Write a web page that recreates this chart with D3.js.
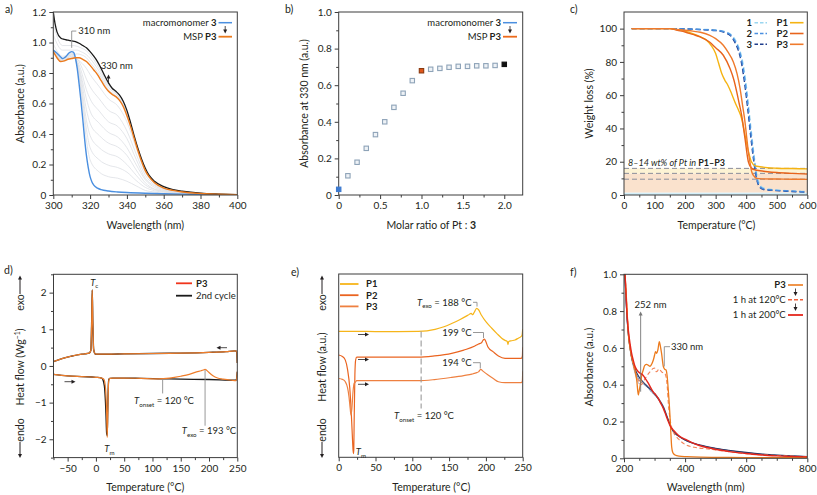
<!DOCTYPE html>
<html><head><meta charset="utf-8">
<script src="https://cdn.jsdelivr.net/npm/d3@7"></script>
<style>
body{margin:0;background:#fff}
text{font-family:Lato,"Noto Sans",sans-serif;fill:#231f20}
</style></head><body>
<svg id="c" width="817" height="495" xmlns="http://www.w3.org/2000/svg"></svg>
<script>
// ---------------- DATA ----------------
// panel a
const aBlueX = [300,302,304,305,306,307,308,309,310,311,312,313,314,315,316,317,318,319,320,321,322,324,326,330,335,340,350,360,370,380,390,400];
const aBlueY = [0.95,0.93,0.905,0.895,0.9,0.91,0.925,0.935,0.94,0.935,0.90,0.83,0.73,0.62,0.50,0.37,0.26,0.18,0.12,0.085,0.065,0.045,0.035,0.026,0.02,0.016,0.011,0.008,0.006,0.004,0.002,0.001];
const aP3X = [300,302,304,306,308,310,312,314,316,318,320,322,324,326,328,330,332,334,336,338,340,342,344,346,348,350,352,355,360,365,370,380,390,400];
const aP3Y = [0.94,0.90,0.875,0.88,0.89,0.895,0.90,0.90,0.89,0.875,0.85,0.82,0.79,0.75,0.71,0.68,0.66,0.645,0.62,0.58,0.52,0.45,0.37,0.29,0.22,0.16,0.12,0.08,0.045,0.03,0.02,0.01,0.005,0.002];
const aEndX = [300,301,302,304,306,308,310,312,314,316,318,320,322,324,326,328,330,332,334,336,338,340,342,344,346,348,350,352,355,360,365,370,380,390,400];
const aEndY = [1.2,1.12,1.07,1.03,1.02,1.015,1.01,1.005,0.995,0.98,0.965,0.94,0.91,0.875,0.83,0.78,0.735,0.70,0.68,0.655,0.615,0.555,0.475,0.385,0.305,0.235,0.175,0.13,0.09,0.055,0.035,0.025,0.012,0.006,0.002];
const aGrayX = [300,305,310,313,315,318,320,325,330,335,340,345,350,355,360,370,380,400];
const aGray1 = [0.95,0.89,0.93,0.84,0.69,0.36,0.23,0.15,0.12,0.11,0.09,0.06,0.03,0.02,0.01,0.01,0.005,0.001];
const aGray2 = [0.95,0.89,0.93,0.85,0.71,0.43,0.31,0.23,0.195,0.18,0.15,0.095,0.05,0.028,0.018,0.01,0.006,0.001];
const aGray3 = [0.95,0.89,0.92,0.86,0.74,0.49,0.39,0.31,0.27,0.25,0.20,0.13,0.066,0.036,0.022,0.011,0.006,0.001];
const aGray4 = [0.945,0.885,0.92,0.86,0.77,0.56,0.47,0.39,0.34,0.315,0.26,0.165,0.08,0.04,0.026,0.013,0.007,0.001];
const aGray5 = [0.945,0.88,0.91,0.87,0.79,0.63,0.55,0.47,0.41,0.38,0.31,0.20,0.10,0.05,0.03,0.014,0.008,0.002];
const aGray6 = [0.943,0.88,0.91,0.88,0.82,0.69,0.63,0.55,0.48,0.45,0.37,0.235,0.11,0.06,0.034,0.016,0.008,0.002];
const aGray7 = [0.942,0.88,0.90,0.89,0.85,0.76,0.71,0.63,0.555,0.52,0.42,0.27,0.13,0.067,0.038,0.017,0.009,0.002];
const aGray8 = [0.941,0.877,0.90,0.89,0.87,0.83,0.79,0.71,0.63,0.585,0.48,0.31,0.15,0.075,0.042,0.019,0.01,0.002];
const aGray9 = [0.99,0.91,0.92,0.925,0.92,0.90,0.87,0.79,0.69,0.64,0.53,0.333,0.163,0.083,0.048,0.021,0.011,0.002];
const aGray10 = [1.05,0.95,0.95,0.95,0.94,0.92,0.895,0.81,0.705,0.65,0.535,0.335,0.165,0.085,0.05,0.022,0.011,0.002];
const aGray11 = [1.12,0.98,0.98,0.975,0.965,0.945,0.92,0.83,0.72,0.655,0.54,0.338,0.168,0.088,0.052,0.024,0.012,0.002];
// panel b
const bRatio = [0,0.111,0.222,0.333,0.444,0.556,0.667,0.778,0.889,1.0,1.111,1.222,1.333,1.444,1.556,1.667,1.778,1.889,2.0];
const bAbs = [0.031,0.105,0.179,0.255,0.33,0.40,0.479,0.556,0.625,0.679,0.687,0.692,0.698,0.703,0.703,0.706,0.706,0.708,0.714];
// panel c
const cMonoT = [25,100,150,200,250,300,330,350,365,375,385,395,405,415,425,435,445,460,500,550,600];
const c1W = [100,100,100,99.8,99.6,99.2,98.3,96.5,93,89,83,73,58,41,25,12,6,4,3,2.4,2];
const c2W = [100,100,100,99.8,99.5,99,98,96,92,88,81,70,55,38,22,10,5,3.5,2.8,2.3,1.8];
const c3W = [100,100,100,99.8,99.4,98.8,97.6,95.5,91,86.5,79,67,52,35,20,9,4.5,3.2,2.6,2.1,1.6];
const cP1T = [25,100,150,175,200,225,250,270,285,300,310,320,330,340,352,365,375,385,395,405,417,430,445,470,500,550,600];
const cP1W = [100,100,100,99.3,98.5,97,95,93,90,85,79,73,69,66,61,55,51,46,37,28,20,17.5,17,16.4,16.1,15.9,15.7];
const cP2T = [25,100,150,175,200,225,250,280,300,325,347,360,369,377,385,396,407,418,430,445,470,500,550,600];
const cP2W = [100,100,100,99,98,96.5,95,92,88.5,84,76,69,62,55,48,34,20,16,15,14.6,14,13.5,13,12.6];
const cP3T = [25,100,150,175,200,225,250,281,300,325,340,358,370,380,388,396,402,407,413,418,425,434,450,500,550,600];
const cP3W = [100,100,100,99.5,99,98.5,97.8,96,94,90,86,80,73,64,54,44,34,26,19,14,11.5,10,9.7,9.6,9.5,9.4];
const cPtLevels = [16,13,9.5];
// panel d
const dCoolT = [-75,-60,-45,-30,-20,-12,-9,-7.5,-6.5,-5.5,-4,-2,0,20,50,100,150,200,230,246,249,250];
const dCoolH = [0.12,0.2,0.26,0.31,0.33,0.35,0.42,1.2,2.07,1.2,0.45,0.34,0.32,0.32,0.33,0.34,0.35,0.37,0.39,0.41,0.4,0.08];
const dHeatT = [-75,-50,-25,0,10,14,17,19,20,21,22,23,25,30,50,80,110,130,150,165,178,186,190,193,196,200,207,215,225,240,248,250];
const dHeatH = [-0.23,-0.27,-0.29,-0.31,-0.33,-0.36,-0.6,-1.3,-1.95,-1.3,-0.6,-0.38,-0.34,-0.33,-0.33,-0.34,-0.35,-0.33,-0.28,-0.23,-0.16,-0.13,-0.11,-0.09,-0.12,-0.18,-0.27,-0.33,-0.36,-0.39,-0.40,-0.15];
const d2ndT = [-75,-50,-25,0,10,12,15,17.5,19,20,21,22,23,25,30,50,80,110,130,150,200,248,250];
const d2ndH = [-0.23,-0.27,-0.29,-0.31,-0.33,-0.36,-0.55,-1.2,-1.85,-1.9,-1.2,-0.5,-0.36,-0.34,-0.33,-0.33,-0.34,-0.35,-0.355,-0.36,-0.37,-0.39,-0.16];
// panel e
const eP1T = [0,25,50,80,108,120,131,143,153.5,165,176,180,182,184,187.5,190,194,200,208,215,221.5,226,229,230,231,235,239.5,244,248,249,250];
const eP1Y = [68.7,68.7,68.6,68.6,68.7,69,69.8,71.2,73,75.2,77.6,78.5,77.8,79,81.3,80.5,77.5,74,70.4,67.5,65,63.8,63.2,61.5,63.2,63.6,64,65,66,66.5,70];
const eP2T = [0,5,9,12,15,17,18.5,19.5,20,20.5,21,22,23,24.5,30,50,80,108,130,153.5,170,185,190,194,196,198,200,203,210,217,226,235,248,249.5,250];
const eP2Y = [55.8,55,53,48,38,25,12,4,2,4,20,45,53,54.6,54.6,54.6,54.6,54.6,55.3,56.7,58.5,60.7,61.8,62.5,63.8,64.5,63,60,57.5,55.3,54,54,54,55,60];
const eP3T = [0,5,9,12,14,15.5,16.7,18,19.5,21,22,24.5,30,50,80,108,130,153.5,170,181,184,187.5,190,193,196,203,210,217,226,235,248,249.5,250];
const eP3Y = [43,42.5,41.2,38,33,27,23,27,36,40.5,40.7,41.8,41.8,41.8,41.8,41.8,42.4,43.6,44.6,45.4,45.8,46.2,46.6,48,47,44.9,43,41.2,40.7,40.7,40.7,41.5,47];
// panel f
const fP3X = [200,203,206,209,212,215,220,225,230,236,242,246.8,250,254.5,258,263,268,274,280,285,290,296,300,303,307,311,315.6,319,323,328.6,333,337.5,341,345,348,350.6,353,356,360,367,380,405,450,500,600,700,800];
const fP3Y = [1.1,1.0,0.93,0.84,0.74,0.66,0.6,0.55,0.52,0.48,0.42,0.344,0.37,0.41,0.45,0.48,0.505,0.51,0.505,0.50,0.51,0.534,0.56,0.58,0.57,0.59,0.634,0.61,0.57,0.50,0.485,0.48,0.45,0.37,0.30,0.226,0.15,0.063,0.03,0.018,0.012,0.009,0.006,0.005,0.004,0.003,0.003];
const f120X = [200,205,210,215,220,225,230,236,242,247,252,257,262,268,274,280,285,290,295,300.5,303,306,310,313.5,318,323,328,334,338,342,345,350,356,362,370,378,400,430,480,500,550,600,700,800];
const f120Y = [1.1,0.95,0.8,0.68,0.6,0.55,0.51,0.47,0.44,0.425,0.41,0.40,0.41,0.43,0.445,0.46,0.47,0.48,0.488,0.49,0.48,0.47,0.475,0.485,0.48,0.47,0.465,0.46,0.44,0.38,0.3,0.22,0.17,0.14,0.12,0.105,0.075,0.06,0.05,0.045,0.035,0.025,0.015,0.009];
const f200X = [200,205,210,214,220,225,230,236,242,247,255,263,271,279,287,296,304,312,320,329,337,345,350,355,361,370,380,405,430,460,490,514,550,600,650,700,800];
const f200Y = [1.1,0.95,0.78,0.70,0.62,0.57,0.535,0.50,0.48,0.47,0.46,0.45,0.43,0.41,0.385,0.36,0.345,0.326,0.30,0.27,0.235,0.2,0.18,0.165,0.154,0.138,0.122,0.1,0.08,0.063,0.052,0.045,0.035,0.026,0.018,0.013,0.008];
const fMidX = [200,205,210,215,220,225,232,240,250,260,270,280,290,300,310,320,330,340,350,360,380,400,450,500,600,700,800];
const fNavyY = [1.1,0.92,0.76,0.66,0.6,0.55,0.505,0.47,0.44,0.42,0.40,0.385,0.37,0.35,0.33,0.305,0.275,0.23,0.185,0.15,0.12,0.1,0.072,0.055,0.032,0.017,0.009];
const fMid1Y = [1.1,0.92,0.76,0.66,0.595,0.545,0.5,0.46,0.425,0.41,0.395,0.38,0.36,0.345,0.325,0.3,0.27,0.228,0.185,0.148,0.118,0.098,0.07,0.053,0.03,0.016,0.009];
const fMid2Y = [1.1,0.92,0.76,0.66,0.59,0.54,0.49,0.44,0.405,0.415,0.405,0.39,0.37,0.355,0.335,0.31,0.28,0.235,0.19,0.15,0.12,0.1,0.07,0.053,0.03,0.016,0.009];

// ---------------- DRAW ----------------
const svg = d3.select("#c");
const defs = svg.append("defs");
const TXT = "#231f20", FR = "#3c3c3c";

function zip(xs, ys){ return xs.map((v,i)=>[v, ys[i]]); }

function panel(o){
  const x = d3.scaleLinear().domain(o.xd).range([o.l, o.r]);
  const y = d3.scaleLinear().domain(o.yd).range([o.b, o.t]);
  const g = svg.append("g");
  defs.append("clipPath").attr("id","cl"+o.id).append("rect")
    .attr("x",o.l).attr("y",o.t).attr("width",o.r-o.l).attr("height",o.b-o.t);
  const ax = (sel)=>{ sel.select(".domain").remove(); sel.selectAll("line").attr("stroke",FR);
    sel.selectAll("text").attr("font-size",10).attr("fill",TXT).attr("font-family","Lato"); };
  g.append("g").attr("transform",`translate(0,${o.b})`)
    .call(d3.axisBottom(x).tickValues(o.xt).tickFormat(o.xf).tickSize(4).tickPadding(3)).call(ax);
  if(o.xm) g.append("g").attr("transform",`translate(0,${o.b})`)
    .call(d3.axisBottom(x).tickValues(o.xm).tickFormat("").tickSize(2.5)).call(ax);
  if(o.yt){
    g.append("g").attr("transform",`translate(${o.l},0)`)
      .call(d3.axisLeft(y).tickValues(o.yt).tickFormat(o.yf).tickSize(4).tickPadding(3)).call(ax);
    if(o.ym) g.append("g").attr("transform",`translate(${o.l},0)`)
      .call(d3.axisLeft(y).tickValues(o.ym).tickFormat("").tickSize(2.5)).call(ax);
  }
  const plot = g.append("g").attr("clip-path",`url(#cl${o.id})`);
  const top = svg.append("g");
  top.append("rect").attr("x",o.l).attr("y",o.t).attr("width",o.r-o.l).attr("height",o.b-o.t)
    .attr("fill","none").attr("stroke",FR).attr("stroke-width",1);
  return {x,y,g,plot,top,o};
}
function line(P, xs, ys, color, w, dash, curve){
  const l = d3.line().x(d=>P.x(d[0])).y(d=>P.y(d[1])).curve(curve||d3.curveMonotoneX);
  return P.plot.append("path").attr("d", l(zip(xs,ys))).attr("fill","none")
    .attr("stroke",color).attr("stroke-width",w).attr("stroke-dasharray",dash||null)
    .attr("stroke-linejoin","round");
}
function text(g, x, y, parts, size, anchor, rot){
  const t = g.append("text").attr("x",x).attr("y",y).attr("font-size",size)
    .attr("text-anchor",anchor||"start").attr("dy","0.35em");
  if(rot) t.attr("transform",`rotate(${rot},${x},${y})`);
  (Array.isArray(parts)?parts:[[parts]]).forEach(p=>{
    const s = t.append("tspan").text(p[0]);
    if(p[1]==="b") s.attr("font-weight","bold");
    if(p[1]==="i") s.attr("font-style","italic");
    if(p[1]==="sub") s.attr("font-size",size*0.65).attr("dy",size*0.3);
    if(p[1]==="unsub") s.attr("dy",-size*0.3);
    if(p[1]==="sup") s.attr("font-size",size*0.65).attr("dy",-size*0.35);
    if(p[1]==="unsup") s.attr("dy",size*0.35);
  });
  return t;
}
function arrow(g, x1,y1,x2,y2, color, w){
  color = color||"#231f20"; w = w||0.8;
  const a = Math.atan2(y2-y1,x2-x1), L=4, Wd=2;
  g.append("line").attr("x1",x1).attr("y1",y1).attr("x2",x2-Math.cos(a)*L*0.8).attr("y2",y2-Math.sin(a)*L*0.8)
    .attr("stroke",color).attr("stroke-width",w);
  const bx = x2-Math.cos(a)*L, by = y2-Math.sin(a)*L;
  g.append("path").attr("d",`M${x2},${y2}L${bx-Math.sin(a)*Wd},${by+Math.cos(a)*Wd}L${bx+Math.sin(a)*Wd},${by-Math.cos(a)*Wd}Z`)
    .attr("fill",color);
}
function seg(g, pts, color, w, dash){
  g.append("path").attr("d","M"+pts.map(p=>p.join(",")).join("L")).attr("fill","none")
    .attr("stroke",color||"#8c8c8c").attr("stroke-width",w||0.8).attr("stroke-dasharray",dash||null);
}
const fmt1 = d=> d===0?"0":d3.format(".1f")(d);
const fmtInt = d=> d<0?"\u2212"+Math.abs(d):String(d);

// ---------- panel a ----------
const A = panel({id:"a", l:53.3, r:237.3, t:12, b:195, xd:[300,400], yd:[0,1.2],
  xt:d3.range(300,401,20), xm:d3.range(310,400,20), xf:d3.format("d"),
  yt:[0,0.2,0.4,0.6,0.8,1.0,1.2], ym:[0.1,0.3,0.5,0.7,0.9,1.1], yf:fmt1});
[aGray1,aGray2,aGray3,aGray4,aGray5,aGray6,aGray7,aGray8,aGray9,aGray10,aGray11].forEach(g=>
  line(A, aGrayX, g, "#dde0e4", 0.8));
line(A, aBlueX, aBlueY, "#4a8fe0", 1.4);
line(A, aEndX, aEndY, "#1a1a1a", 1.3);
line(A, aP3X, aP3Y, "#ec7a1c", 1.4);
seg(A.top, [[A.x(310),A.y(0.965)],[A.x(310),A.y(1.075)],[A.x(312.5),A.y(1.075)]], "#8c8c8c", 0.9);
text(A.top, A.x(313.5), A.y(1.078), "310 nm", 9.5);
text(A.top, A.x(334.5), A.y(0.85), "330 nm", 9.5, "middle");
arrow(A.top, A.x(330), A.y(0.73), A.x(330), A.y(0.79));
text(A.top, 216.5, 22.7, [["macromonomer "],["3","b"]], 9.5, "end");
seg(A.top, [[218.5,22.7],[232,22.7]], "#4a8fe0", 1.5);
arrow(A.top, 225.2, 26, 225.2, 33.5);
text(A.top, 216.5, 36.7, [["MSP "],["P3","b"]], 9.5, "end");
seg(A.top, [[218.5,36.7],[232,36.7]], "#ec7a1c", 1.8);
text(svg, 5, 9, "a)", 10.5);
text(svg, 20, 103.5, "Absorbance (a.u.)", 10.5, "middle", -90);
text(svg, 145.3, 225, "Wavelength (nm)", 10.5, "middle");

// ---------- panel b ----------
const B = panel({id:"b", l:338.7, r:522.7, t:12, b:195, xd:[0,2.2225], yd:[0,1],
  xt:[0,0.5,1,1.5,2], xm:[0.25,0.75,1.25,1.75], xf:fmt1,
  yt:[0,0.2,0.4,0.6,0.8,1.0], ym:[0.1,0.3,0.5,0.7,0.9], yf:fmt1});
B.top.selectAll("rect.pt").data(zip(bRatio,bAbs)).join("rect").attr("class","pt")
  .attr("x",d=>B.x(d[0])-2.2).attr("y",d=>B.y(d[1])-2.2).attr("width",4.4).attr("height",4.4)
  .attr("fill",(d,i)=> i===0?"#3d7ad0": i===9?"#e0561a": i===bRatio.length-1?"#111":"#eef2f6")
  .attr("stroke",(d,i)=> i===0?"#3d7ad0": i===9?"#8a3a10": i===bRatio.length-1?"#111":"#8ea3b8")
  .attr("stroke-width",1.1);
text(B.top, 501, 22.7, [["macromonomer "],["3","b"]], 9.5, "end");
seg(B.top, [[503,22.7],[517,22.7]], "#4a8fe0", 1.5);
arrow(B.top, 510, 26, 510, 33.5);
text(B.top, 501, 36.7, [["MSP "],["P3","b"]], 9.5, "end");
seg(B.top, [[503,36.7],[517,36.7]], "#ec6a1c", 1.8);
text(svg, 285, 9, "b)", 10.5);
text(svg, 304.5, 103.5, "Absorbance at 330 nm (a.u.)", 10.5, "middle", -90);
text(svg, 431.3, 225, [["Molar ratio of Pt : "],["3","b"]], 10.5, "middle");

// ---------- panel c ----------
const C = panel({id:"c", l:624, r:807.3, t:12, b:195, xd:[0,600], yd:[0,110],
  xt:d3.range(0,601,100), xm:d3.range(50,600,100), xf:d3.format("d"),
  yt:d3.range(0,101,20), ym:d3.range(10,110,20), yf:d3.format("d")});
C.plot.append("rect").attr("x",C.x(0)).attr("width",C.x(600)-C.x(0)).attr("y",C.y(1.5)).attr("height",C.y(0)-C.y(1.5)).attr("fill","#d3eff9");
C.plot.append("rect").attr("x",C.x(0)).attr("width",C.x(600)-C.x(0)).attr("y",C.y(13)).attr("height",C.y(1.5)-C.y(13)).attr("fill","#fae2cd");
C.plot.append("rect").attr("x",C.x(0)).attr("width",C.x(600)-C.x(0)).attr("y",C.y(16)).attr("height",C.y(13)-C.y(16)).attr("fill","#fdf3d4");
cPtLevels.forEach(v=> C.plot.append("line").attr("x1",C.x(0)).attr("x2",C.x(600)).attr("y1",C.y(v)).attr("y2",C.y(v))
  .attr("stroke","#8a8d9a").attr("stroke-width",1).attr("stroke-dasharray","5,3"));
line(C, cMonoT, c1W, "#9ad6f0", 1.4, "5,3");
line(C, cMonoT, c3W, "#1f3d8c", 1.4, "5,3");
line(C, cMonoT, c2W, "#4a8fe0", 1.4, "5,3");
line(C, cP1T, cP1W, "#f5b312", 1.4);
line(C, cP2T, cP2W, "#e8641c", 1.4);
line(C, cP3T, cP3W, "#ef7a2c", 1.4);
text(C.top, 628, 162.5, [["8\u201314 wt% of Pt in ","i"],["P1\u2013P3","b"]], 9, "start");
[["1","#9ad6f0","P1","#f5b312"],["2","#4a8fe0","P2","#e8641c"],["3","#1f3d8c","P3","#ef7a2c"]].forEach((r,i)=>{
  const yy = 22.7 + i*10.8;
  text(C.top, 752, yy, [[r[0],"b"]], 9.5, "end");
  seg(C.top, [[754.5,yy],[767,yy]], r[1], 1.4, "3.5,2");
  text(C.top, 788, yy, [[r[2],"b"]], 9.5, "end");
  seg(C.top, [[790,yy],[803.5,yy]], r[3], 1.6);
});
text(svg, 570, 9, "c)", 10.5);
text(svg, 589, 103.5, "Weight loss (%)", 10.5, "middle", -90);
text(svg, 716.5, 225, "Temperature (\u00b0C)", 10.5, "middle");

// ---------- panel d ----------
const D = panel({id:"d", l:53.5, r:237.3, t:274.3, b:457.6, xd:[-75,250], yd:[-2.5,2.5],
  xt:d3.range(-50,251,50), xm:d3.range(-75,251,50), xf:fmtInt,
  yt:[-2,-1,0,1,2], ym:[-2.5,-1.5,-0.5,0.5,1.5,2.5], yf:fmtInt});
line(D, dCoolT, dCoolH, "#1a1a1a", 1.4);
line(D, d2ndT, d2ndH, "#1a1a1a", 1.3);
line(D, dCoolT, dCoolH, "#ef7d2a", 1.2);
line(D, dHeatT, dHeatH, "#ef7d2a", 1.2);
text(D.top, D.x(-3), 282.3, [["T","i"],["c","sub"]], 9.5, "middle");
text(D.top, D.x(24), 448.5, [["T","i"],["m","sub"]], 9.5, "middle");
seg(D.top, [[D.x(118),D.y(-0.36)],[D.x(118),D.y(-0.75)]], "#8c8c8c", 0.9);
text(D.top, 164, 400.7, [["T","i"],["onset","sub"],[" = 120 \u00b0C","unsub"]], 9.5, "middle");
seg(D.top, [[D.x(193),D.y(-0.11)],[D.x(193),D.y(-1.63)]], "#8c8c8c", 0.9);
text(D.top, 209, 430.5, [["T","i"],["exo","sub"],[" = 193 \u00b0C","unsub"]], 9.5, "middle");
arrow(D.top, 227, 347.7, 216.5, 347.7);
arrow(D.top, 64.5, 381.7, 75.5, 381.7);
seg(D.top, [[176,283.3],[192,283.3]], "#f0351c", 1.8);
text(D.top, 196, 283.3, [["P3","b"]], 9.5);
seg(D.top, [[176,295.7],[192,295.7]], "#1a1a1a", 1.8);
text(D.top, 196, 295.7, "2nd cycle", 9.5);
text(svg, 4, 270, "d)", 10.5);
text(svg, 20, 367, [["Heat flow (Wg"],["\u22121","sup"],[")","unsup"]], 10.5, "middle", -90);
text(svg, 20, 302.5, "exo", 10.5, "middle", -90);
arrow(svg, 20, 294, 20, 275.5, "#231f20", 1);
text(svg, 20, 430, "endo", 10.5, "middle", -90);
arrow(svg, 20, 442, 20, 458, "#231f20", 1);
text(svg, 145.3, 487.7, "Temperature (\u00b0C)", 10.5, "middle");

// ---------- panel e ----------
const E = panel({id:"e", l:338.7, r:522.7, t:274, b:457.3, xd:[0,250], yd:[0,100],
  xt:d3.range(0,251,50), xm:d3.range(25,250,50), xf:d3.format("d")});
line(E, eP1T, eP1Y, "#f6b51a", 1.2);
line(E, eP2T, eP2Y, "#ea6420", 1.2);
line(E, eP3T, eP3Y, "#ee8040", 1.2);
seg(E.top, [[E.x(112),331.5],[E.x(112),408.5]], "#9a9a9a", 1.1, "6,3");
text(E.top, 424, 415.5, [["T","i"],["onset","sub"],[" = 120 \u00b0C","unsub"]], 9.5, "middle");
text(E.top, 471.5, 302.3, [["T","i"],["exo","sub"],[" = 188 \u00b0C","unsub"]], 9.5, "end");
seg(E.top, [[473,302.3],[477,302.3],[477,306.5]], "#8c8c8c", 0.9);
text(E.top, 471.5, 332.5, "199 \u00b0C", 9.5, "end");
seg(E.top, [[473,332.5],[483.5,332.5],[483.5,338]], "#8c8c8c", 0.9);
text(E.top, 471.5, 362.7, "194 \u00b0C", 9.5, "end");
seg(E.top, [[473,362.7],[480.3,362.7],[480.3,368.5]], "#8c8c8c", 0.9);
arrow(E.top, 358, 334.5, 369, 334.5);
arrow(E.top, 358, 359.5, 369, 359.5);
arrow(E.top, 358, 384.3, 369, 384.3);
text(E.top, 361, 451.5, [["T","i"],["m","sub"]], 9.5, "middle");
[["P1","#f6b51a"],["P2","#ea6420"],["P3","#ee8040"]].forEach((r,i)=>{
  const yy = 284 + i*11.2;
  seg(E.top, [[340,yy],[358.5,yy]], r[1], 1.8);
  text(E.top, 366, yy, [[r[0],"b"]], 9.5);
});
text(svg, 291, 272, "e)", 10.5);
text(svg, 322, 367, "Heat flow (a.u.)", 10.5, "middle", -90);
text(svg, 322, 302.5, "exo", 10.5, "middle", -90);
arrow(svg, 322, 294, 322, 275.5, "#231f20", 1);
text(svg, 322, 430, "endo", 10.5, "middle", -90);
arrow(svg, 322, 442, 322, 458, "#231f20", 1);
text(svg, 431.3, 487.7, "Temperature (\u00b0C)", 10.5, "middle");

// ---------- panel f ----------
const F = panel({id:"f", l:624, r:807.3, t:274.3, b:458.3, xd:[200,800], yd:[0,1],
  xt:[200,400,600,800], xm:d3.range(250,800,50).filter(v=>v%200), xf:d3.format("d"),
  yt:[0,0.2,0.4,0.6,0.8,1.0], ym:[0.1,0.3,0.5,0.7,0.9], yf:fmt1});
line(F, fMidX, fMid2Y, "#a4a8b8", 1.0);
line(F, fMidX, fMid1Y, "#6c7ea4", 1.0);
line(F, fMidX, fNavyY, "#2b3a68", 1.1);
line(F, f120X, f120Y, "#f2845a", 1.1, "4,2.5");
line(F, fP3X, fP3Y, "#ec7a1c", 1.3);
line(F, f200X, f200Y, "#e5261c", 1.4);
arrow(F.top, F.x(254.5), 391.7, F.x(254.5), 311.5, "#777", 0.9);
text(F.top, 650.5, 304.3, "252 nm", 9.5, "middle");
seg(F.top, [[664.3,366.5],[664.3,346.7],[670,346.7]], "#8c8c8c", 0.9);
text(F.top, 671, 346.7, "330 nm", 9.5);
text(F.top, 785.7, 285, [["P3","b"]], 9.5, "end");
seg(F.top, [[788,285],[803,285]], "#ec7a1c", 1.6);
arrow(F.top, 795.5, 288.5, 795.5, 296);
text(F.top, 785.7, 299.8, "1 h at 120\u00b0C", 9.5, "end");
seg(F.top, [[788,299.8],[803,299.8]], "#f0603a", 1.6, "4,2");
arrow(F.top, 795.5, 303.5, 795.5, 311);
text(F.top, 785.7, 315, "1 h at 200\u00b0C", 9.5, "end");
seg(F.top, [[788,315],[803,315]], "#e5261c", 1.8);
text(svg, 570, 272, "f)", 10.5);
text(svg, 589, 367, "Absorbance (a.u.)", 10.5, "middle", -90);
text(svg, 705.7, 487.7, "Wavelength (nm)", 10.5, "middle");
</script>
</body></html>
